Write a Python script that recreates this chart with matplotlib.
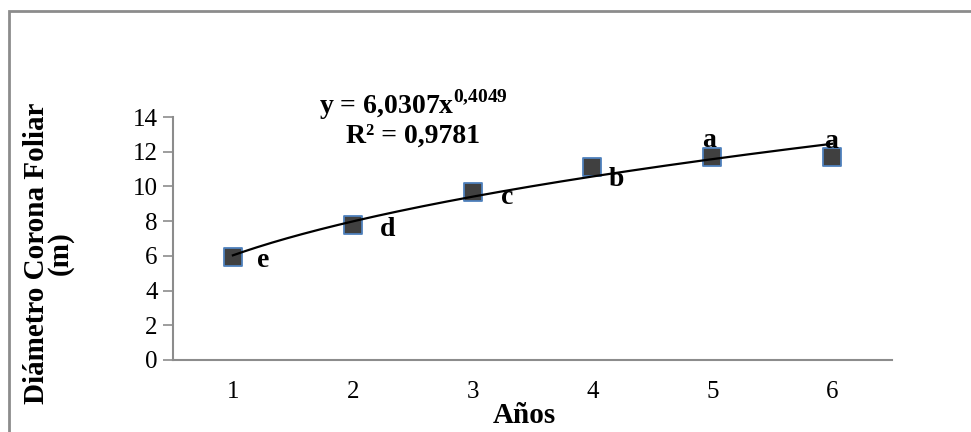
import numpy as np
import matplotlib.pyplot as plt
from matplotlib.patches import Rectangle

# datos
anios = [1, 2, 3, 4, 5, 6]
diametro = [5.95, 7.78, 9.7, 11.1, 11.68, 11.72]
letras = ['e', 'd', 'c', 'b', 'a', 'a']
# desplazamiento de cada letra en puntos (dx, dy)
letra_off = [(22, -3), (25, -3), (25, -4), (17, -9), (-2, 12), (-1, 11)]
coef_a = 6.0307
coef_b = 0.4049
r2 = 0.9781

plt.rcParams['font.family'] = ['Liberation Serif', 'DejaVu Serif']
plt.rcParams['mathtext.fontset'] = 'custom'
plt.rcParams['mathtext.rm'] = 'Liberation Serif'
plt.rcParams['mathtext.bf'] = 'Liberation Serif:bold'

fig = plt.figure(figsize=(9.71, 4.32), dpi=100)
fig.patches.append(Rectangle((9/971, -0.1), 1.2, 1 - 11/432 + 0.1, transform=fig.transFigure,
                             fill=False, edgecolor='#8c8c8c', linewidth=2))

ax = fig.add_axes([173/971, 1 - 360/432, (892 - 173)/971, (360 - 117)/432])

xs = np.linspace(1, 6, 200)
ax.plot(xs, coef_a * xs**coef_b, color='black', lw=1.6, zorder=3)
ax.scatter(anios, diametro, marker='s', s=180, color='#404040', edgecolor='#4f81bd',
           linewidth=1.3, zorder=2)

for x, y, t, (dx, dy) in zip(anios, diametro, letras, letra_off):
    ax.annotate(t, (x, y), xytext=(dx, dy), textcoords='offset points',
                ha='center', va='center', fontsize=20, fontweight='bold', zorder=4)

ax.text(0.334, 1.05, 'y = 6,0307x$^{\\mathbf{0{,}4049}}$', transform=ax.transAxes,
        ha='center', va='center', fontsize=20, fontweight='bold')
ax.text(0.334, 0.92, 'R² = 0,9781', transform=ax.transAxes,
        ha='center', va='center', fontsize=20, fontweight='bold')

ax.set_xlim(0.5, 6.5)
ax.set_ylim(0, 14)
ax.set_xticks(anios)
ax.set_yticks(range(0, 15, 2))
ax.tick_params(axis='x', length=0, pad=15, labelsize=18)
ax.tick_params(axis='y', length=7, width=1.2, color='#8c8c8c', direction='out', pad=4, labelsize=18)
for s in ['top', 'right']:
    ax.spines[s].set_visible(False)
for s in ['left', 'bottom']:
    ax.spines[s].set_color('#8c8c8c')
    ax.spines[s].set_linewidth(1.5)

ax.set_xlabel('Años', fontsize=21, fontweight='bold')
ax.xaxis.set_label_coords(0.489, -0.173)
ax.set_ylabel('Diámetro Corona Foliar\n(m)', fontsize=21, fontweight='bold', linespacing=0.85)
ax.yaxis.set_label_coords(-0.138, 0.44)

fig.savefig('out.png', dpi=100)
